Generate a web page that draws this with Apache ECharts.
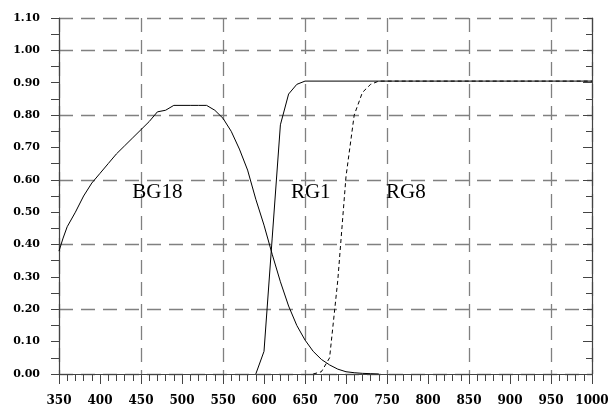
<!DOCTYPE html>
<html>
<head>
<meta charset="utf-8">
<script src="https://cdn.jsdelivr.net/npm/echarts@6/dist/echarts.min.js"></script>
<style>
  html, body { margin: 0; padding: 0; background: #fff; }
  #chart { width: 612px; height: 409px; }
</style>
</head>
<body>
<div id="chart"></div>
<script>
// transmission curves, wavelength (nm) vs. transmission
var bg18Nm  = [350, 355, 360, 370, 380, 390, 400, 410, 420, 430, 440, 450, 460, 470, 480, 490, 500, 510, 520, 530, 540, 550, 560, 570, 580, 590, 600, 610, 620, 630, 640, 650, 660, 670, 680, 690, 700, 710, 720, 730, 740];
var bg18Val = [0.38, 0.42, 0.455, 0.50, 0.55, 0.59, 0.62, 0.65, 0.68, 0.705, 0.73, 0.755, 0.78, 0.81, 0.815, 0.83, 0.83, 0.83, 0.83, 0.83, 0.815, 0.79, 0.75, 0.695, 0.63, 0.54, 0.46, 0.37, 0.285, 0.21, 0.15, 0.105, 0.07, 0.045, 0.028, 0.015, 0.007, 0.004, 0.002, 0.001, 0];

var rg1Nm  = [590, 600, 610, 620, 630, 640, 650, 1000];
var rg1Val = [0, 0.07, 0.42, 0.77, 0.865, 0.895, 0.905, 0.905];

var rg8Nm  = [660, 670, 680, 690, 700, 710, 720, 730, 740, 1000];
var rg8Val = [0, 0.007, 0.05, 0.29, 0.61, 0.80, 0.87, 0.895, 0.905, 0.905];

var curveNames = ['BG18', 'RG1', 'RG8'];

function pairs(xs, ys) {
    return xs.map(function (x, i) { return [x, ys[i]]; });
}

var chart = echarts.init(document.getElementById('chart'));

var axisColor = '#444';
var gridDash = { color: '#808080', width: 1.3, type: [14, 8] };

function tag(text, x, y) {
    return {
        symbol: 'rect',
        symbolSize: 1,
        itemStyle: { color: 'rgba(0,0,0,0)' },
        data: [{ name: text, coord: [x, y] }],
        label: {
            show: true,
            position: 'inside',
            formatter: '{b}',
            fontFamily: 'Liberation Serif',
            fontSize: 21,
            color: '#000'
        }
    };
}

var option = {
    animation: false,
    backgroundColor: '#fff',
    grid: { left: 59, right: 20, top: 18, bottom: 35 },
    xAxis: [
        {
            type: 'value', position: 'bottom', min: 350, max: 1000, interval: 50,
            axisLine: { lineStyle: { color: axisColor, width: 1.2 } },
            axisTick: { inside: false, length: 10, lineStyle: { color: axisColor } },
            minorTick: { show: true, splitNumber: 5, length: 7, lineStyle: { color: axisColor } },
            axisLabel: {
                margin: 21, fontFamily: 'DejaVu Serif', fontWeight: 'bold', fontSize: 12, color: '#000',
                formatter: function (v) { return String(v); }
            },
            splitLine: { show: false }
        },
        {
            type: 'value', position: 'top', min: 350, max: 1000, interval: 50,
            axisLine: { lineStyle: { color: axisColor, width: 1.2 } },
            axisTick: { inside: true, length: 8, lineStyle: { color: axisColor } },
            minorTick: { show: true, splitNumber: 5, length: 6, lineStyle: { color: axisColor } },
            axisLabel: { show: false },
            splitLine: { show: false }
        },
        {
            // shifted by 50 so the dashed lines land on 450, 550, ... 950
            type: 'value', min: 300, max: 950, interval: 100,
            axisLine: { show: false }, axisTick: { show: false }, axisLabel: { show: false },
            splitLine: { show: true, lineStyle: gridDash }
        }
    ],
    yAxis: [
        {
            type: 'value', position: 'left', min: 0, max: 1.1, interval: 0.1,
            axisLine: { show: true, lineStyle: { color: axisColor, width: 1.2 } },
            axisTick: { show: true, inside: false, length: 8, lineStyle: { color: axisColor } },
            minorTick: { show: true, splitNumber: 2, length: 8, lineStyle: { color: axisColor } },
            axisLabel: {
                margin: 19, fontFamily: 'DejaVu Serif', fontWeight: 'bold', fontSize: 11, color: '#000',
                formatter: function (v) { return v.toFixed(2); }
            },
            splitLine: { show: false }
        },
        {
            type: 'value', position: 'right', min: 0, max: 1.1, interval: 0.1,
            axisLine: { show: true, lineStyle: { color: axisColor, width: 1.2 } },
            axisTick: { show: true, inside: true, length: 9, lineStyle: { color: axisColor } },
            minorTick: { show: true, splitNumber: 2, length: 6, lineStyle: { color: axisColor } },
            axisLabel: { show: false },
            splitLine: { show: false }
        },
        {
            type: 'value', min: 0, max: 1.1, interval: 0.2,
            axisLine: { show: false }, axisTick: { show: false }, axisLabel: { show: false },
            splitLine: { show: true, lineStyle: gridDash }
        }
    ],
    series: [
        {
            name: curveNames[0], type: 'line', xAxisIndex: 0, yAxisIndex: 0,
            data: pairs(bg18Nm, bg18Val), showSymbol: false,
            lineStyle: { color: '#000', width: 1 },
            markPoint: tag(curveNames[0], 470, 0.56)
        },
        {
            name: curveNames[1], type: 'line', xAxisIndex: 0, yAxisIndex: 0,
            data: pairs(rg1Nm, rg1Val), showSymbol: false,
            lineStyle: { color: '#000', width: 1 },
            markPoint: tag(curveNames[1], 657, 0.56)
        },
        {
            name: curveNames[2], type: 'line', xAxisIndex: 0, yAxisIndex: 0,
            data: pairs(rg8Nm, rg8Val), showSymbol: false,
            lineStyle: { color: '#000', width: 1, type: [4, 3] },
            markPoint: tag(curveNames[2], 773, 0.56)
        }
    ]
};

chart.setOption(option);
</script>
</body>
</html>
